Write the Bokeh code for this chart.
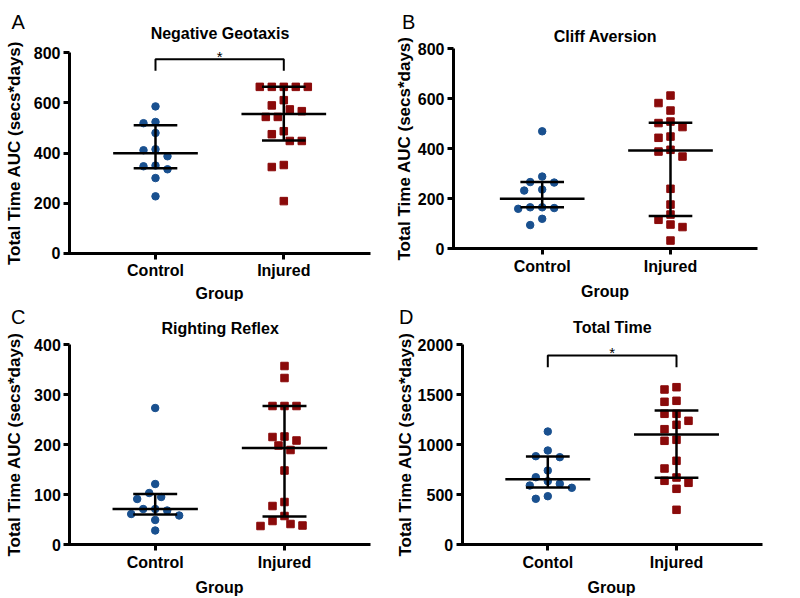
from bokeh.plotting import figure
from bokeh.models import Range1d, FixedTicker, Label
from bokeh.layouts import column, row
from bokeh.embed import file_html
from bokeh.resources import INLINE
from bokeh.core.properties import value

# ---------------- data ----------------
groups_abc = ["Control", "Injured"]
groups_d = ["Contol", "Injured"]

geotaxis_control = [586, 524, 519, 480, 415, 411, 387, 350, 347, 335, 300, 227]
geotaxis_injured = [664, 664, 664, 664, 664, 611, 590, 574, 567, 544, 544, 487, 475, 448, 448, 352, 344, 208]
geotaxis_median = [399, 556]
geotaxis_q1 = [339, 450]
geotaxis_q3 = [511, 664]
geotaxis_sig = [774, 728, 818]   # bracket level, bracket leg end, star level

cliff_control = [470, 289, 267, 265, 237, 233, 166, 166, 163, 160, 120, 95]
cliff_injured = [613, 583, 553, 509, 503, 487, 449, 444, 396, 389, 369, 240, 177, 137, 116, 97, 87, 33]
cliff_median = [200, 393]
cliff_q1 = [166, 131]
cliff_q3 = [267, 504]

righting_control = [273, 121, 103, 95, 91, 71, 71, 68, 61, 58, 49, 28]
righting_injured = [357, 333, 277, 277, 277, 216, 215, 208, 198, 189, 148, 85, 77, 57, 47, 41, 38, 37]
righting_median = [71, 193]
righting_q1 = [60, 56]
righting_q3 = [101, 277]

total_control = [1130, 940, 883, 873, 740, 673, 633, 607, 590, 567, 483, 457]
total_injured = [1573, 1550, 1437, 1427, 1307, 1307, 1237, 1197, 1153, 1047, 1037, 837, 760, 670, 637, 617, 557, 347]
total_median = [653, 1100]
total_q1 = [570, 667]
total_q3 = [880, 1340]
total_sig = [1890, 1773, 2000]

ticks_800 = [0, 200, 400, 600, 800]
ticks_400 = [0, 100, 200, 300, 400]
ticks_2000 = [0, 500, 1000, 1500, 2000]

BLUE = "#19508f"
RED = "#8a0a0a"
FONT = "Liberation Sans"
YLABEL = "Total Time AUC (secs*days)"


def beeswarm(vals, upp, px_per_x, step=6.0, dist=10.0):
    placed, offs = [], []
    cands = [0.0]
    for i in range(1, 15):
        cands += [-i * step, i * step]
    for v in vals:
        y = v / upp
        for c in cands:
            if all((c - px) ** 2 + (y - py) ** 2 >= dist ** 2 for px, py in placed):
                break
        placed.append((c, y))
        offs.append(c / px_per_x)
    return offs


def panel(letter, title, labels, ctrl, inj, med, q1, q3, yticks, geom,
          title_base, letter_x, letter_base, ylab_standoff, xlab_standoff, sig=None):
    # geom: canvas size and pixel layout of the axes inside this canvas
    W, H, ax_left, ax_right, ctrl_px, inj_px, y0_px, ytop_px = geom
    ppx = inj_px - ctrl_px
    upp = yticks[-1] / (y0_px - ytop_px)
    x_start = -ctrl_px / ppx
    x_end = (W - ctrl_px) / ppx
    y_start = -(H - y0_px) * upp
    y_end = y0_px * upp

    p = figure(width=W, height=H, output_backend="svg", toolbar_location=None,
               x_range=Range1d(x_start, x_end), y_range=Range1d(y_start, y_end),
               min_border=0, min_border_left=0, min_border_right=0,
               min_border_top=0, min_border_bottom=0)
    p.outline_line_color = None
    p.grid.visible = False
    p.background_fill_color = "white"
    p.border_fill_color = "white"

    # individual animals
    cx = [0 + o for o in beeswarm(ctrl, upp, ppx)]
    ix = [1 + o for o in beeswarm(inj, upp, ppx)]
    p.scatter(cx, ctrl, marker="circle", size=7.5, fill_color=BLUE, line_color=BLUE)
    p.scatter(ix, inj, marker="square", size=7.5, fill_color=RED, line_color=RED)

    # median with interquartile range
    gx = [0, 1]
    lw = 2.5
    p.segment([g - 0.33 for g in gx], med, [g + 0.33 for g in gx], med, line_color="black", line_width=lw)
    p.segment([g - 0.17 for g in gx], q1, [g + 0.17 for g in gx], q1, line_color="black", line_width=lw)
    p.segment([g - 0.17 for g in gx], q3, [g + 0.17 for g in gx], q3, line_color="black", line_width=lw)
    p.segment(gx, q1, gx, q3, line_color="black", line_width=lw)

    if sig is not None:
        level, leg, star = sig
        p.line([0, 0, 1, 1], [leg, level, level, leg], line_color="black", line_width=2)
        p.text([0.5], [star], text=["*"], text_align="center", text_baseline="alphabetic",
               y_offset=8, text_font=value(FONT), text_font_size="15px", text_color="black")

    # axes, fixed at the data origin
    xaxis = p.xaxis[0]
    yaxis = p.yaxis[0]
    yaxis_x = (ax_left - ctrl_px) / ppx
    xaxis.fixed_location = 0
    yaxis.fixed_location = yaxis_x
    xaxis.bounds = ((ax_left - 1.5 - ctrl_px) / ppx, (ax_right - ctrl_px) / ppx)
    yaxis.bounds = (yticks[0], yticks[-1])
    for ax in (xaxis, yaxis):
        ax.axis_line_width = 3
        ax.axis_line_color = "black"
        ax.major_tick_line_width = 3
        ax.major_tick_line_color = "black"
        ax.major_tick_out = 6
        ax.major_tick_in = 0
        ax.minor_tick_line_color = None
        ax.major_label_standoff = 3
        ax.major_label_text_font = FONT
        ax.major_label_text_font_style = "bold"
        ax.major_label_text_font_size = "16px"
        ax.major_label_text_color = "black"
        ax.axis_label_text_font = FONT
        ax.axis_label_text_font_style = "bold"
        ax.axis_label_text_color = "black"
    xaxis.ticker = FixedTicker(ticks=[0, 1])
    xaxis.major_label_overrides = {0: labels[0], 1: labels[1]}
    xaxis.axis_label = "Group"
    xaxis.axis_label_text_font_size = "16px"
    xaxis.axis_label_standoff = xlab_standoff
    yaxis.ticker = FixedTicker(ticks=yticks)
    yaxis.axis_label = YLABEL
    yaxis.axis_label_text_font_size = "17px"
    yaxis.axis_label_standoff = ylab_standoff

    p.add_layout(Label(x=letter_x, y=letter_base, x_units="canvas", y_units="canvas", text=letter,
                       text_font=FONT, text_font_size="20px", text_align="left",
                       text_baseline="alphabetic", text_color="black"))
    p.add_layout(Label(x=(ax_left + ax_right) / 2, y=title_base, x_units="canvas", y_units="canvas",
                       text=title, text_font=FONT, text_font_size="16px", text_font_style="bold",
                       text_align="center", text_baseline="alphabetic", text_color="black"))
    return p


# canvas geometry: (width, height, axis left, axis right, control x, injured x, y of 0, y of top tick)
geom_A = (396, 301, 69, 370, 155, 283.3, 252.7, 52.3)
geom_B = (404, 301, 57, 361, 145.7, 274, 248.3, 48.3)
geom_C = (396, 297, 69.3, 370, 154.7, 284, 243, 43)
geom_D = (404, 297, 65.7, 366, 151.3, 280, 243, 43)

pA = panel("A", "Negative Geotaxis", groups_abc, geotaxis_control, geotaxis_injured,
           geotaxis_median, geotaxis_q1, geotaxis_q3, ticks_800, geom_A,
           32.5, 11, 21, 7, 2, sig=geotaxis_sig)
pB = panel("B", "Cliff Aversion", groups_abc, cliff_control, cliff_injured,
           cliff_median, cliff_q1, cliff_q3, ticks_800, geom_B,
           36, 5.5, 21, 1, 5)
pC = panel("C", "Righting Reflex", groups_abc, righting_control, righting_injured,
           righting_median, righting_q1, righting_q3, ticks_400, geom_C,
           27, 10.5, 15, 7, 5)
pD = panel("D", "Total Time", groups_d, total_control, total_injured,
           total_median, total_q1, total_q3, ticks_2000, geom_D,
           25.7, 2.5, 15, 0, 5, sig=total_sig)

layout = column(row(pA, pB), row(pC, pD))
open("out.html", "w").write(file_html(layout, INLINE))
